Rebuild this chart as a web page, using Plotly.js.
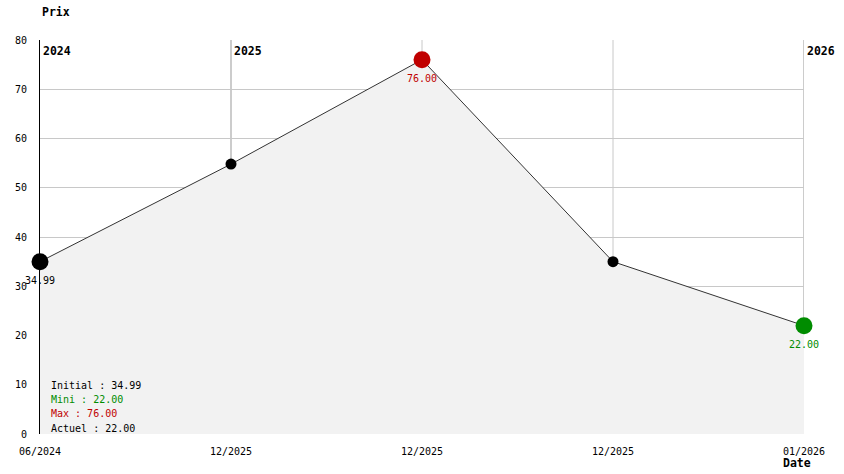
<!DOCTYPE html>
<html>
<head>
<meta charset="utf-8">
<script src="https://cdn.plot.ly/plotly-3.0.1.min.js"></script>
<style>html,body{margin:0;padding:0;background:#fff;}#chart{width:844px;height:474px;}</style>
</head>
<body>
<div id="chart"></div>
<script>
// ---- data ----
const dateLabels = ['06/2024', '12/2025', '12/2025', '12/2025', '01/2026'];
const prices = [34.99, 54.8, 76.00, 34.99, 22.00];
const yearLabels = ['2024', '2025', '2026'];
const yearIndex = [0, 1, 4];
const yTicks = [0, 10, 20, 30, 40, 50, 60, 70, 80];

// ---- derived ----
const xs = prices.map((_, i) => i);
const FONT = 'DejaVu Sans Mono, Liberation Mono, monospace';
const RED = '#c00000', GREEN = '#008c00', BLACK = '#000000';
const maxV = Math.max(...prices), minV = Math.min(...prices);
const iMax = prices.indexOf(maxV), iMin = prices.lastIndexOf(minV);
const first = prices[0], last = prices[prices.length - 1];

const mColors = prices.map((v, i) => i === iMax ? RED : (i === iMin ? GREEN : BLACK));
const mSizes = prices.map((v, i) => (i === 0 || i === iMax || i === iMin) ? 17 : 11);

const traces = [
  {
    x: xs, y: prices, type: 'scatter', mode: 'lines',
    line: {color: '#333333', width: 1},
    fill: 'tozeroy', fillcolor: '#f2f2f2',
    hoverinfo: 'skip', cliponaxis: false
  },
  {
    x: xs, y: prices, type: 'scatter', mode: 'markers',
    marker: {color: mColors, size: mSizes, opacity: 1, line: {width: 0}},
    cliponaxis: false, hoverinfo: 'x+y'
  }
];

const shapes = xs.filter(i => i > 0).map(i => ({
  type: 'line', xref: 'x', yref: 'paper', x0: i, x1: i, y0: 0, y1: 1,
  line: {color: yearIndex.includes(i) ? '#999999' : '#c8c8c8', width: 1},
  layer: 'below'
}));

const annotations = [];
// year labels
yearLabels.forEach((t, k) => {
  annotations.push({
    text: '<b>' + t + '</b>', x: yearIndex[k], y: 1, xref: 'x', yref: 'paper',
    xanchor: 'left', yanchor: 'middle', xshift: 1, yshift: -11, showarrow: false,
    font: {family: FONT, size: 11.5, color: '#000'}
  });
});
// value labels
[[0, BLACK], [iMax, RED], [iMin, GREEN]].forEach(([i, c]) => {
  annotations.push({
    text: prices[i].toFixed(2), x: i, y: prices[i], xref: 'x', yref: 'y',
    xanchor: 'center', yanchor: 'middle', yshift: -18.5, showarrow: false,
    font: {family: FONT, size: 10, color: c}
  });
});
// stats box
const stats = [
  ['Initial : ' + first.toFixed(2), BLACK],
  ['Mini : ' + minV.toFixed(2), GREEN],
  ['Max : ' + maxV.toFixed(2), RED],
  ['Actuel : ' + last.toFixed(2), BLACK]
];
stats.forEach(([t, c], k) => {
  annotations.push({
    text: t, x: 0, y: 0, xref: 'paper', yref: 'paper',
    xanchor: 'left', yanchor: 'middle', xshift: 9, yshift: 48.5 - k * 14.2,
    showarrow: false, font: {family: FONT, size: 10, color: c}
  });
});
// axis titles
annotations.push({
  text: '<b>Prix</b>', x: 0, y: 1, xref: 'paper', yref: 'paper',
  xanchor: 'left', yanchor: 'middle', yshift: 28, showarrow: false,
  font: {family: FONT, size: 11.5, color: '#000'}
});
annotations.push({
  text: '<b>Date</b>', x: 1, y: 0, xref: 'paper', yref: 'paper',
  xanchor: 'center', yanchor: 'middle', xshift: -7, yshift: -28.7, showarrow: false,
  font: {family: FONT, size: 11.5, color: '#000'}
});

const layout = {
  width: 844, height: 474,
  margin: {l: 40, r: 39.5, t: 40, b: 40, pad: 0},
  paper_bgcolor: '#ffffff', plot_bgcolor: '#ffffff',
  showlegend: false,
  font: {family: FONT, size: 10, color: '#000'},
  xaxis: {
    range: [0, xs.length - 1], tickvals: xs, ticktext: dateLabels,
    showgrid: false, zeroline: false, showline: false, ticks: '',
    ticklabelstandoff: 10, fixedrange: true,
    tickfont: {family: FONT, size: 10, color: '#000'}
  },
  yaxis: {
    range: [0, 80], tickvals: yTicks, ticktext: yTicks.map(String),
    showgrid: true, gridcolor: '#c8c8c8', gridwidth: 1,
    zeroline: false, showline: true, linecolor: '#000', linewidth: 1,
    ticks: '', ticklabelstandoff: 10, fixedrange: true,
    tickfont: {family: FONT, size: 10, color: '#000'}
  },
  shapes: shapes,
  annotations: annotations
};

Plotly.newPlot('chart', traces, layout, {displayModeBar: false, staticPlot: true});
</script>
</body>
</html>
